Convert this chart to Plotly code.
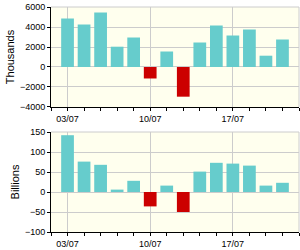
import plotly.graph_objects as go
from plotly.subplots import make_subplots

dates = ["03/07", "04/07", "05/07", "06/07", "07/07", "10/07", "11/07",
         "12/07", "13/07", "14/07", "17/07", "18/07", "19/07", "20/07"]
thousands = [4850, 4250, 5450, 2030, 2950, -1150, 1550, -2970, 2450, 4150, 3150, 3750, 1130, 2750]
billions = [142, 76, 68, 6, 28, -36, 16, -50, 51, 73, 71, 66, 16, 23]
tick_labels = ["03/07", "10/07", "17/07"]
ytitle_top = "Thousands"
ytitle_bottom = "Billions"

POS = "#66CCCC"
NEG = "#CC0000"
FONT = "Liberation Sans, Arial, sans-serif"

xs = list(range(len(dates)))
label_pos = [dates.index(t) for t in tick_labels]

fig = make_subplots(rows=2, cols=1, vertical_spacing=0.1111)
fig.update_layout(
    width=300, height=250,
    margin=dict(l=51, r=1, t=7, b=18),
    paper_bgcolor="white", plot_bgcolor="#FFFFEE",
    showlegend=False, bargap=0.23,
    font=dict(family=FONT, size=9, color="black"),
)
fig.update_layout(yaxis=dict(domain=[0.5556, 1.0]), yaxis2=dict(domain=[0.0, 0.4444]))

for row, vals in ((1, thousands), (2, billions)):
    fig.add_trace(go.Bar(
        x=xs, y=vals,
        marker=dict(color=[POS if v >= 0 else NEG for v in vals], line=dict(width=0)),
        width=0.77,
    ), row=row, col=1)

common_x = dict(
    range=[-1, 14], tickvals=label_pos, ticktext=tick_labels,
    ticks="outside", ticklen=3, tickcolor="black",
    showgrid=True, gridcolor="#CCCCCC", gridwidth=1,
    showline=True, linecolor="black", linewidth=1, zeroline=False,
    minor=dict(tick0=0, dtick=1, ticks="outside", ticklen=3, tickcolor="black", showgrid=False),
    tickfont=dict(family=FONT, size=9, color="black"),
)
fig.update_xaxes(**common_x, row=1, col=1)
fig.update_xaxes(**common_x, row=2, col=1)

common_y = dict(
    ticks="outside", ticklen=3, tickcolor="black",
    showgrid=True, gridcolor="#CCCCCC", gridwidth=1,
    showline=True, linecolor="black", linewidth=1, zeroline=False,
    tickfont=dict(family=FONT, size=9, color="black"),
)
fig.update_yaxes(**common_y, range=[-4000, 6000], dtick=2000, tick0=0,
                 title=dict(text=ytitle_top, font=dict(family=FONT, size=11, color="black"), standoff=3),
                 row=1, col=1)
fig.update_yaxes(**common_y, range=[-100, 150], dtick=50, tick0=0,
                 title=dict(text=ytitle_bottom, font=dict(family=FONT, size=11, color="black"), standoff=3),
                 row=2, col=1)

for xr, yr in (("x", "y"), ("x2", "y2")):
    fig.add_shape(type="line", xref=f"{xr} domain", yref=f"{yr} domain",
                  x0=0, x1=1, y0=1, y1=1, line=dict(color="#CCCCCC", width=1), layer="above")
    fig.add_shape(type="line", xref=f"{xr} domain", yref=f"{yr} domain",
                  x0=1, x1=1, y0=0, y1=1, line=dict(color="#CCCCCC", width=1), layer="above")

fig.write_html("out.html")
